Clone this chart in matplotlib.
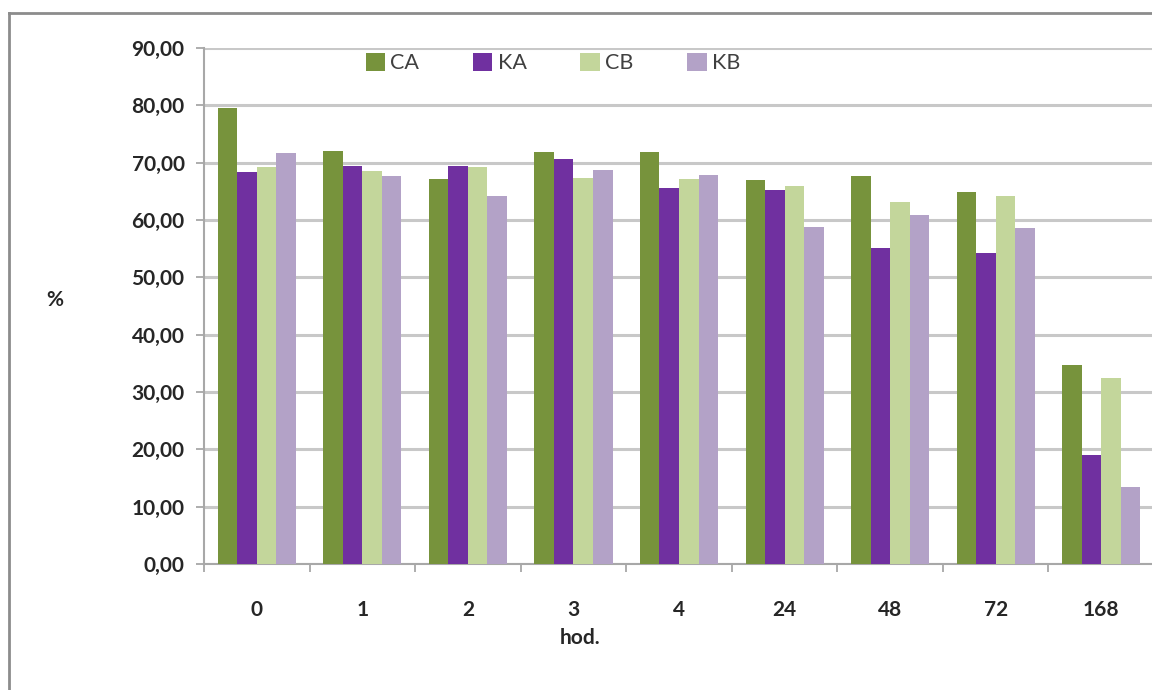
import matplotlib
matplotlib.use("Agg")
import matplotlib.pyplot as plt
from matplotlib.lines import Line2D
from matplotlib.ticker import FuncFormatter
import numpy as np

categories = ["0", "1", "2", "3", "4", "24", "48", "72", "168"]
series_names = ["CA", "KA", "CB", "KB"]
CA = [79.5, 72.0, 67.1, 71.8, 71.8, 66.9, 67.6, 64.8, 34.7]
KA = [68.4, 69.4, 69.4, 70.6, 65.6, 65.2, 55.1, 54.2, 19.0]
CB = [69.2, 68.5, 69.3, 67.4, 67.2, 66.0, 63.1, 64.2, 32.4]
KB = [71.7, 67.7, 64.2, 68.7, 67.9, 58.8, 60.9, 58.6, 13.5]
colors = ["#77933C", "#7030A0", "#C3D69B", "#B3A2C7"]

plt.rcParams['font.family'] = ['Lato', 'DejaVu Sans']

fig = plt.figure(figsize=(11.52, 6.9), dpi=100)
ax = fig.add_axes([204/1152, 1-564/690, 950/1152, (564-48)/690])

x = np.arange(len(categories))
w = 0.185
for i, (vals, name, c) in enumerate(zip([CA, KA, CB, KB], series_names, colors)):
    ax.bar(x + (i - 1.5) * w, vals, width=w, color=c, label=name, zorder=3)

ax.set_xlim(-0.5, len(categories) - 0.5)
ax.set_ylim(0, 90)
ax.set_yticks(np.arange(0, 91, 10))
ax.yaxis.set_major_formatter(FuncFormatter(lambda v, p: f"{v:.2f}".replace(".", ",")))
ax.grid(axis="y", color="#C8C8C8", linewidth=2.2, zorder=0)
ax.set_xticks(x)
ax.set_xticklabels(categories)
ax.set_xticks(np.arange(-0.5, len(categories) + 0.5, 1), minor=True)
ax.tick_params(axis="x", which="major", length=0, pad=26, labelsize=15, labelcolor="#262626")
ax.tick_params(axis="x", which="minor", length=6, width=1.2, color="#A0A0A0", direction="out")
ax.tick_params(axis="y", length=6, width=1.2, color="#A0A0A0", pad=8, labelsize=15, labelcolor="#262626")
for lab in ax.get_xticklabels() + ax.get_yticklabels():
    lab.set_fontweight("bold")

for s in ["top", "right"]:
    ax.spines[s].set_visible(False)
for s in ["left", "bottom"]:
    ax.spines[s].set_color("#A8A8A8")
    ax.spines[s].set_linewidth(1.5)

leg = ax.legend(loc="center", bbox_to_anchor=(553/1152, 1-63/690), bbox_transform=fig.transFigure,
                ncol=4, frameon=False, fontsize=15.5, handlelength=0.9, handleheight=0.9,
                handletextpad=0.25, columnspacing=2.5)
for t in leg.get_texts():
    t.set_color("#404040")

fig.text(55/1152, 1-300/690, "%", ha="center", va="center", fontsize=15, fontweight="bold", color="#262626")
fig.text(580/1152, 1-638/690, "hod.", ha="center", va="center", fontsize=15, fontweight="bold", color="#262626")

# outer frame
fig.add_artist(Line2D([9/1152, 1.0], [1-13/690, 1-13/690], transform=fig.transFigure, color="#8C8C8C", linewidth=2))
fig.add_artist(Line2D([9/1152, 9/1152], [0, 1-13/690], transform=fig.transFigure, color="#8C8C8C", linewidth=2))

fig.savefig("out.png", dpi=100)
